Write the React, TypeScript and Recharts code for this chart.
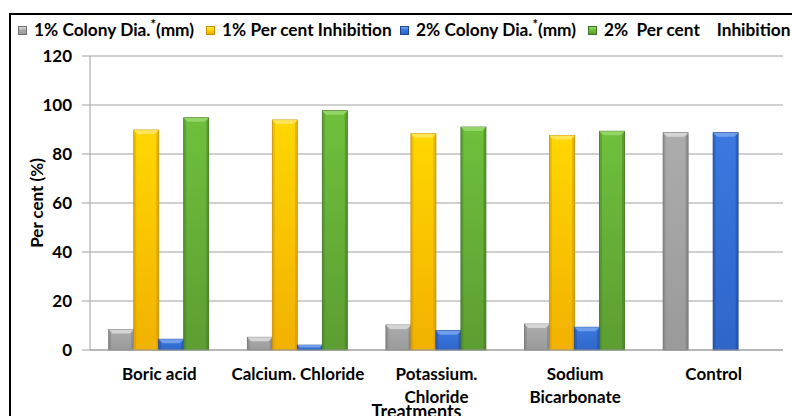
import React from 'react';
import { BarChart, Bar, XAxis, YAxis, CartesianGrid, Legend } from 'recharts';

const categories = ['Boric acid', 'Calcium. Chloride', 'Potassium.\nChloride', 'Sodium\nBicarbonate', 'Control'];
const colony1 = [8.4, 5.2, 10.2, 10.6, 88.7];
const inhibition1 = [89.8, 93.9, 88.4, 87.6, null];
const colony2 = [4.4, 2.0, 7.9, 9.3, 88.7];
const inhibition2 = [94.8, 97.7, 91.0, 89.3, null];
const yTicks = [0, 20, 40, 60, 80, 100, 120];

const seriesKeys = ['c1', 'i1', 'c2', 'i2'];
const seriesNames = ['1% Colony Dia.*(mm)', '1% Per cent Inhibition', '2% Colony Dia.*(mm)', '2%  Per cent    Inhibition'];
const legendLefts = [0, 188, 382, 570];

const data = categories.map((name, i) => ({
  name,
  c1: colony1[i],
  i1: inhibition1[i],
  c2: colony2[i],
  i2: inhibition2[i],
}));

const palette: Record<string, { top: string; bottom: string; light: string; dark: string }> = {
  c1: { top: '#acacac', bottom: '#9a9a9a', light: '#dcdcdc', dark: '#6f6f6f' },
  i1: { top: '#ffd700', bottom: '#f2b100', light: '#ffe866', dark: '#c98f00' },
  c2: { top: '#3b78e0', bottom: '#2f66c8', light: '#7aa6ee', dark: '#1d4690' },
  i2: { top: '#6fc03c', bottom: '#5c9e32', light: '#9ad96d', dark: '#3f7424' },
};

const FONT = 'Lato, "Open Sans", sans-serif';

const makeShape = (key: string) => (props: any) => {
  const { x, y, width, height } = props;
  if (height == null || height <= 0 || width <= 0) return <g />;
  const p = palette[key];
  const b = Math.min(4, height / 2, width / 2);
  return (
    <g>
      <rect x={x} y={y} width={width} height={height} fill={`url(#grad-${key})`} stroke={p.dark} strokeWidth={0.8} />
      <polygon
        points={`${x},${y} ${x + width},${y} ${x + width - b},${y + b} ${x + b},${y + b}`}
        fill={p.light}
        opacity={0.85}
      />
      <polygon points={`${x},${y} ${x + b * 0.6},${y + b} ${x + b * 0.6},${y + height} ${x},${y + height}`} fill={p.dark} opacity={0.35} />
      <polygon
        points={`${x + width},${y} ${x + width - b * 0.6},${y + b} ${x + width - b * 0.6},${y + height} ${x + width},${y + height}`}
        fill={p.dark}
        opacity={0.45}
      />
    </g>
  );
};

const XTick = (props: any) => {
  const { x, y, payload } = props;
  const lines = String(payload.value).split('\n');
  return (
    <g transform={`translate(${x},${y})`}>
      <text textAnchor="middle" fontFamily={FONT} fontWeight={700} fontSize={17} fill="#000">
        {lines.map((l, i) => (
          <tspan key={i} x={0} dy={i === 0 ? 22 : 23}>
            {l}
          </tspan>
        ))}
      </text>
    </g>
  );
};

const LegendIcon = ({ k }: { k: string }) => {
  const p = palette[k];
  return (
    <span
      style={{
        display: 'inline-block',
        width: 9,
        height: 9,
        marginRight: 7,
        background: `linear-gradient(${p.light}, ${p.top} 40%, ${p.bottom})`,
        border: `1px solid ${p.dark}`,
        boxSizing: 'border-box',
      }}
    />
  );
};

const renderName = (name: string) => {
  const idx = name.indexOf('*');
  if (idx < 0) return <span style={{ whiteSpace: 'pre' }}>{name}</span>;
  return (
    <span style={{ whiteSpace: 'pre' }}>
      {name.slice(0, idx)}
      <sup style={{ fontSize: 13, lineHeight: 0 }}>*</sup>
      {name.slice(idx + 1)}
    </span>
  );
};

const LegendContent = () => (
  <div style={{ position: 'relative', height: 22, whiteSpace: 'nowrap', fontFamily: FONT, fontWeight: 700, fontSize: 17.3, color: '#000', lineHeight: '22px' }}>
    {seriesKeys.map((k, i) => (
      <span key={k} style={{ position: 'absolute', left: legendLefts[i], top: 0, display: 'inline-flex', alignItems: 'center' }}>
        <LegendIcon k={k} />
        {renderName(seriesNames[i])}
      </span>
    ))}
  </div>
);

export default function App() {
  return (
    <div style={{ position: 'absolute', left: 0, top: 0, width: 792, height: 416, overflow: 'hidden', background: '#fff' }}>
      <div
        style={{
          position: 'absolute',
          left: 9,
          top: 13,
          width: 900,
          height: 600,
          border: '2px solid #000',
          boxSizing: 'border-box',
        }}
      />
      <div style={{ position: 'absolute', left: 0, top: 0 }}>
        <BarChart
          width={792}
          height={416}
          data={data}
          margin={{ top: 56, right: 9, left: 10, bottom: 0 }}
          barCategoryGap="13.5%"
          barGap={0}
        >
          <defs>
            {seriesKeys.map((k) => (
              <linearGradient key={k} id={`grad-${k}`} x1="0" y1="0" x2="0" y2="1">
                <stop offset="0%" stopColor={palette[k].top} />
                <stop offset="100%" stopColor={palette[k].bottom} />
              </linearGradient>
            ))}
          </defs>
          <CartesianGrid vertical={false} stroke="#a0a0a0" strokeWidth={1} />
          <XAxis
            dataKey="name"
            interval={0}
            height={66}
            tickLine={false}
            axisLine={{ stroke: '#a0a0a0' }}
            tick={<XTick />}
            label={{
              value: 'Treatments',
              position: 'insideBottom',
              offset: -2,
              dx: -20,
              style: { fontFamily: FONT, fontWeight: 700, fontSize: 18, fill: '#000' },
            }}
          />
          <YAxis
            domain={[0, 120]}
            ticks={yTicks}
            width={80}
            tickSize={8}
            tickMargin={10}
            tickLine={{ stroke: '#a0a0a0' }}
            axisLine={{ stroke: '#a0a0a0' }}
            tick={{ fontFamily: FONT, fontWeight: 700, fontSize: 17, fill: '#000' }}
            label={{
              value: 'Per cent (%)',
              angle: -90,
              position: 'insideLeft',
              offset: 27,
              style: { fontFamily: FONT, fontWeight: 700, fontSize: 17, fill: '#000', textAnchor: 'middle' },
            }}
          />
          <Legend
            layout="horizontal"
            verticalAlign="middle"
            align="center"
            content={<LegendContent />}
            wrapperStyle={{ top: 19, left: 18, width: 774 }}
          />
          {seriesKeys.map((k, i) => (
            <Bar key={k} dataKey={k} name={seriesNames[i]} isAnimationActive={false} shape={makeShape(k)} />
          ))}
        </BarChart>
      </div>
    </div>
  );
}
